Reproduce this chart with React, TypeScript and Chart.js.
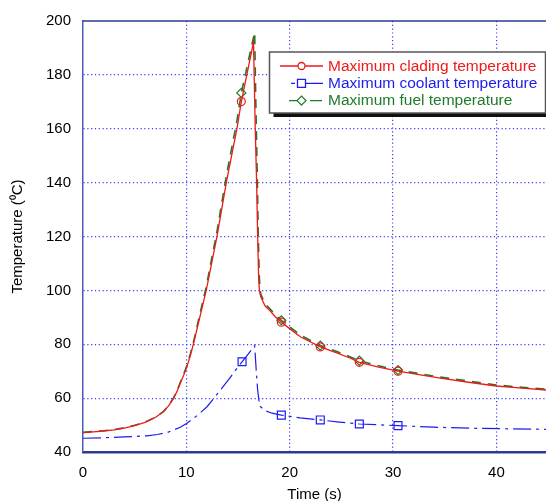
import React, { useEffect, useRef } from 'react';
import { Chart, registerables } from 'chart.js';

Chart.register(...registerables);

// ---- data ----
const cladTime = [0, 1, 2, 3, 4, 5, 6, 7, 7.8, 8.3, 8.77, 9.1, 9.42, 9.75, 10.06, 10.4, 10.7, 11.3, 11.93, 12.97, 13.87, 14.9, 15.32, 16.5, 16.65, 16.8, 16.9, 17.0, 17.07, 17.2, 17.45, 17.64, 18.06, 18.6, 19.19, 20, 21.03, 22.96, 24.5, 25.87, 26.74, 28.5, 30.48, 32.5, 34.58, 37.3, 40, 42.5, 44.84];
const cladTemp = [47.2, 47.5, 47.8, 48.2, 48.9, 49.8, 51.0, 52.8, 55.0, 57.2, 60.0, 62.5, 65.6, 68.6, 71.7, 76.0, 80.3, 90.0, 100.1, 120.1, 140.1, 160.1, 170.1, 192.2, 163, 140, 120, 104, 100, 97.6, 95.6, 94.1, 92.6, 90.2, 88.2, 85.8, 82.8, 79.0, 76.9, 74.8, 73.3, 71.6, 70.0, 68.7, 67.4, 65.9, 64.5, 63.7, 63.0];
const cladMarkerTimes = [15.32, 19.19, 22.96, 26.74, 30.48];

const coolTime = [0, 2, 4, 6.19, 7.2, 8.13, 9.42, 10.06, 11.0, 12.0, 13.29, 14.2, 14.9, 15.39, 16.0, 16.61, 16.75, 16.9, 17.09, 17.64, 18.3, 19.19, 21, 22.96, 24.8, 26.74, 28.6, 30.48, 33.93, 38, 44.84];
const coolTemp = [45.1, 45.3, 45.6, 46.0, 46.5, 47.2, 49.2, 50.7, 53.4, 56.8, 63.0, 67.4, 71.1, 73.5, 76.4, 79.5, 71, 63.0, 57.1, 55.3, 54.4, 53.7, 52.7, 51.9, 51.1, 50.4, 50.1, 49.8, 49.2, 48.8, 48.4];
const coolMarkerTimes = [15.39, 19.19, 22.96, 26.74, 30.48];

const fuelTime = [0, 1, 2, 3, 4, 5, 6, 7, 7.8, 8.3, 8.77, 9.1, 9.42, 9.75, 10.06, 10.4, 10.7, 11.3, 11.93, 12.97, 13.87, 14.9, 15.32, 16.61, 16.72, 16.85, 16.95, 17.05, 17.12, 17.2, 17.45, 17.64, 18.06, 18.6, 19.19, 20, 21.03, 22.96, 24.5, 25.87, 26.74, 28.5, 30.48, 32.5, 34.58, 37.3, 40, 42.5, 44.84];
const fuelTemp = [47.3, 47.6, 47.9, 48.3, 49.0, 49.9, 51.1, 52.9, 55.1, 57.3, 60.2, 62.7, 65.9, 69.0, 72.2, 76.6, 81.0, 91.0, 101.5, 122.0, 142.5, 163.0, 173.3, 195.9, 170, 145, 122, 106, 101, 98.6, 96.4, 94.9, 93.3, 90.9, 88.9, 86.5, 83.4, 79.5, 77.4, 75.3, 73.9, 72.1, 70.4, 69.1, 67.8, 66.3, 64.9, 64.0, 63.3];
const fuelMarkerTimes = [15.32, 19.19, 22.96, 26.74, 30.48];

const seriesLabels = ['Maximum clading temperature', 'Maximum coolant temperature', 'Maximum fuel temperature'];
const xTickValues = [0, 10, 20, 30, 40];
const yTickValues = [40, 60, 80, 100, 120, 140, 160, 180, 200];
const xTitle = 'Time (s)';
const yTitle = 'Temperature (\u2070C)';

// ---- styles ----
const RED = '#f01818';
const BLUE = '#1c1cf0';
const GREEN = '#1f7a2a';
const GRID = 'rgba(40,40,250,0.9)';
const AXIS = '#2c3a96';
const FONT = "'Liberation Sans', Arial, Helvetica, sans-serif";

const toPoints = (xs: number[], ys: number[]) => xs.map((x, i) => ({ x, y: ys[i] }));

const markerRadius = (times: number[], r: number) => (ctx: any) => {
  const raw = ctx.raw as { x: number } | undefined;
  return raw && times.includes(raw.x) ? r : 0;
};

const frameAndLegend = {
  id: 'frameAndLegend',
  afterDraw(chart: any) {
    const { ctx, chartArea } = chart;
    ctx.save();
    // top frame line
    ctx.strokeStyle = AXIS;
    ctx.lineWidth = 1.5;
    ctx.beginPath();
    ctx.moveTo(chartArea.left, chartArea.top);
    ctx.lineTo(chartArea.right, chartArea.top);
    ctx.stroke();

    // legend box with shadow
    const bx = 269.5, by = 52, bw = 276, bh = 61;
    ctx.fillStyle = '#111';
    ctx.fillRect(bx + 4, by + 4, bw, bh);
    ctx.fillStyle = '#fff';
    ctx.fillRect(bx, by, bw, bh);
    ctx.strokeStyle = '#555';
    ctx.lineWidth = 1.5;
    ctx.strokeRect(bx, by, bw, bh);

    const colors = [RED, BLUE, GREEN];
    const segments = [
      [[280, 323]],
      [[291, 295], [305, 323]],
      [[289, 298], [310, 322]],
    ];
    const styles = ['circle', 'rect', 'rectRot'];
    ctx.font = `15.5px ${FONT}`;
    ctx.textBaseline = 'middle';
    ctx.textAlign = 'left';
    ctx.setLineDash([]);
    for (let i = 0; i < 3; i++) {
      const y = 66 + i * 17.3;
      ctx.strokeStyle = colors[i];
      ctx.lineWidth = 1.3;
      ctx.beginPath();
      for (const [a, b] of segments[i]) {
        ctx.moveTo(a, y);
        ctx.lineTo(b, y);
      }
      ctx.stroke();
      ctx.beginPath();
      const cx = 301.5;
      if (styles[i] === 'circle') {
        ctx.arc(cx, y, 3.5, 0, Math.PI * 2);
      } else if (styles[i] === 'rect') {
        ctx.rect(cx - 4, y - 4, 8, 8);
      } else {
        ctx.moveTo(cx - 4.5, y); ctx.lineTo(cx, y - 4.5); ctx.lineTo(cx + 4.5, y); ctx.lineTo(cx, y + 4.5); ctx.closePath();
      }
      ctx.fillStyle = '#fff';
      ctx.fill();
      ctx.stroke();
      ctx.fillStyle = colors[i];
      ctx.fillText(seriesLabels[i], 328, y + 0.5);
    }
    ctx.restore();
  },
};

export default function App() {
  const canvasRef = useRef<HTMLCanvasElement | null>(null);

  useEffect(() => {
    const canvas = canvasRef.current;
    if (!canvas) return;
    const chart = new Chart(canvas, {
      type: 'line',
      data: {
        datasets: [
          {
            label: seriesLabels[0],
            data: toPoints(cladTime, cladTemp),
            borderColor: RED,
            borderWidth: 1.3,
            pointStyle: 'circle',
            pointRadius: markerRadius(cladMarkerTimes, 4),
            pointBorderColor: RED,
            pointBackgroundColor: 'rgba(0,0,0,0)',
            pointBorderWidth: 1.2,
            tension: 0,
          },
          {
            label: seriesLabels[1],
            data: toPoints(coolTime, coolTemp),
            borderColor: BLUE,
            borderWidth: 1.2,
            borderDash: [18, 5, 3, 5],
            pointStyle: 'rect',
            pointRadius: markerRadius(coolMarkerTimes, 5.6),
            pointBorderColor: BLUE,
            pointBackgroundColor: 'rgba(0,0,0,0)',
            pointBorderWidth: 1.2,
            tension: 0,
          },
          {
            label: seriesLabels[2],
            data: toPoints(fuelTime, fuelTemp),
            borderColor: GREEN,
            borderWidth: 1.6,
            borderDash: [9, 7],
            pointStyle: 'rectRot',
            pointRadius: markerRadius(fuelMarkerTimes, 4.5),
            pointBorderColor: GREEN,
            pointBackgroundColor: 'rgba(0,0,0,0)',
            pointBorderWidth: 1.2,
            tension: 0,
          },
        ],
      },
      options: {
        animation: false,
        responsive: false,
        devicePixelRatio: 1,
        layout: { padding: { top: 20.7, left: 0, right: 0, bottom: 0 } },
        plugins: { legend: { display: false }, tooltip: { enabled: false } },
        scales: {
          x: {
            type: 'linear',
            min: 0,
            max: 44.8,
            afterBuildTicks: (scale: any) => {
              scale.ticks = xTickValues.map((v) => ({ value: v }));
            },
            afterFit: (scale: any) => {
              scale.height = 52;
            },
            ticks: {
              color: '#000',
              font: { family: FONT, size: 15 },
              padding: 12,
              maxRotation: 0,
              autoSkip: false,
            },
            grid: {
              drawTicks: false,
              color: (ctx: any) => (ctx.tick && ctx.tick.value === 0 ? 'rgba(0,0,0,0)' : GRID),
              lineWidth: 1.2,
            },
            border: { display: true, color: AXIS, width: 2.5, dash: [1.2, 2.6] },
            title: {
              display: true,
              text: xTitle,
              color: '#000',
              font: { family: FONT, size: 15 },
              padding: { top: 0, bottom: 0 },
            },
          },
          y: {
            type: 'linear',
            min: 40,
            max: 200,
            afterBuildTicks: (scale: any) => {
              scale.ticks = yTickValues.map((v) => ({ value: v }));
            },
            afterFit: (scale: any) => {
              scale.width = 83;
            },
            ticks: {
              color: '#000',
              font: { family: FONT, size: 15 },
              padding: 12,
              autoSkip: false,
            },
            grid: {
              drawTicks: false,
              color: (ctx: any) =>
                ctx.tick && (ctx.tick.value === 40 || ctx.tick.value === 200) ? 'rgba(0,0,0,0)' : GRID,
              lineWidth: 1.2,
            },
            border: { display: true, color: '#4a5ab8', width: 1.5, dash: [1.2, 2.6] },
            title: {
              display: true,
              text: yTitle,
              color: '#000',
              font: { family: FONT, size: 15 },
              padding: { top: 8.5, bottom: 0 },
            },
          },
        },
      },
      plugins: [frameAndLegend],
    });
    return () => chart.destroy();
  }, []);

  return (
    <div style={{ position: 'fixed', left: 0, top: 0, width: 546, height: 504, background: '#fff' }}>
      <canvas ref={canvasRef} width={546} height={504} style={{ display: 'block' }} />
    </div>
  );
}
